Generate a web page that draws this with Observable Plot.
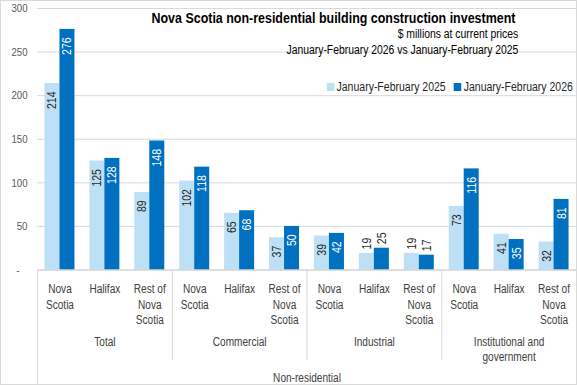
<!DOCTYPE html>
<html><head><meta charset="utf-8">
<script src="https://cdn.jsdelivr.net/npm/d3@7"></script>
<script src="https://cdn.jsdelivr.net/npm/@observablehq/plot@0.6"></script>
<style>
html,body{margin:0;padding:0;background:#fff;}
#chart{position:relative;width:577px;height:385px;overflow:hidden;font-family:'Liberation Sans Narrow','Arial Narrow','Liberation Sans',sans-serif;}
#chart svg{position:absolute;left:0;top:0;}
#border{position:absolute;left:0;top:0;width:577px;height:385px;box-sizing:border-box;border:1px solid #d9d9d9;pointer-events:none;}
.t{position:absolute;white-space:nowrap;line-height:1;color:#000;transform:scaleX(0.83);transform-origin:right center;}
#title{right:62px;top:10px;font-size:15px;font-weight:bold;}
#sub1{right:59px;top:28px;font-size:12.5px;}
#sub2{right:59px;top:44px;font-size:12.5px;}
#legend{position:absolute;right:4px;top:81px;display:flex;align-items:center;font-size:12.5px;line-height:1;color:#262626;white-space:nowrap;transform:scaleX(0.84);transform-origin:right center;}
#legend .sw{display:inline-block;width:8.5px;height:8px;margin-right:3px;}
#legend .it{display:flex;align-items:center;margin-left:10px;}
</style>
</head><body>
<div id="chart">
  <div class="t" id="title"></div>
  <div class="t" id="sub1"></div>
  <div class="t" id="sub2"></div>
  <div id="legend"></div>
  <div id="border"></div>
</div>
<script>
const titleText = "Nova Scotia non-residential  building construction  investment";
const subtitle1 = "$ millions at current prices";
const subtitle2 = "January-February  2026 vs January-February  2025";
const categories = ["Total", "Commercial", "Industrial", "Institutional and\ngovernment"];
const regions = ["Nova\nScotia", "Halifax", "Rest of\nNova\nScotia"];
const groupLabel = "Non-residential";
const series = ["January-February 2025", "January-February 2026"];
const values2025 = [214, 125, 89, 102, 65, 37, 39, 19, 19, 73, 41, 32];
const values2026 = [276, 128, 148, 118, 68, 50, 42, 25, 17, 116, 35, 81];
const yTicks = [0, 50, 100, 150, 200, 250, 300];
const colors = ["#bde0f7", "#0070c0"];

const FONT = "'Liberation Sans Narrow','Arial Narrow','Liberation Sans',sans-serif";
const SQUEEZE = 0.84;

const rows = values2025.map((v, i) => ({
  i, c: Math.floor(i / 3), r: i % 3,
  cat: categories[Math.floor(i / 3)], region: regions[i % 3],
  v25: v, v26: values2026[i]
}));
const fits = v => v >= 30;

document.getElementById("title").textContent = titleText;
document.getElementById("sub1").textContent = subtitle1;
document.getElementById("sub2").textContent = subtitle2;
const leg = document.getElementById("legend");
series.forEach((s, k) => {
  const it = document.createElement("span"); it.className = "it";
  const sw = document.createElement("span"); sw.className = "sw"; sw.style.background = colors[k];
  const tx = document.createElement("span"); tx.textContent = s;
  it.appendChild(sw); it.appendChild(tx); leg.appendChild(it);
});

const plot = Plot.plot({
  width: 577, height: 385,
  marginLeft: 37, marginRight: 1, marginTop: 8, marginBottom: 115.5,
  style: {fontFamily: FONT, background: "transparent", overflow: "visible"},
  x: {type: "band", domain: d3.range(12), paddingInner: 0.332, paddingOuter: 0.166, round: false, axis: null},
  y: {domain: [0, 300], axis: null},
  marks: [
    Plot.gridY(yTicks.filter(d => d > 0), {stroke: "#d9d9d9", strokeOpacity: 1}),
    Plot.axisY(yTicks, {tickSize: 0, tickPadding: 10, fontSize: 11.5, fill: "#595959",
      tickFormat: d => d === 0 ? "-\u00a0\u00a0\u00a0" : String(d)}),
    Plot.barY(rows, {x: "i", y: "v25", fill: colors[0], insetRight: 15}),
    Plot.barY(rows, {x: "i", y: "v26", fill: colors[1], insetLeft: 15}),
    Plot.ruleY([0], {stroke: "#bfbfbf"}),
    Plot.ruleX(rows.filter(d => d.r === 0 && d.c > 0), {x: "i", y1: 0, y2: 0, dx: -22.46, insetBottom: -90.5, stroke: "#d9d9d9"}),
    Plot.ruleX(rows.filter(d => d.i === 0), {x: "i", y1: 0, y2: 0, dx: -22.46, insetBottom: -116, stroke: "#d9d9d9"}),
    Plot.text(rows.filter(d => fits(d.v25)), {x: "i", y: "v25", text: d => String(d.v25), rotate: -90, dx: -7.5, dy: 8, textAnchor: "end", fontSize: 12.5, fill: "#262626"}),
    Plot.text(rows.filter(d => fits(d.v26)), {x: "i", y: "v26", text: d => String(d.v26), rotate: -90, dx: 7.5, dy: 8, textAnchor: "end", fontSize: 12.5, fill: "#ffffff"}),
    Plot.text(rows.filter(d => !fits(d.v25)), {x: "i", y: "v25", text: d => String(d.v25), rotate: -90, dx: -7.5, dy: -4, textAnchor: "start", fontSize: 12.5, fill: "#262626"}),
    Plot.text(rows.filter(d => !fits(d.v26)), {x: "i", y: "v26", text: d => String(d.v26), rotate: -90, dx: 7.5, dy: -4, textAnchor: "start", fontSize: 12.5, fill: "#262626"}),
    Plot.text(rows, {x: "i", text: "region", frameAnchor: "bottom", lineAnchor: "top", dy: 12, lineHeight: 1.3, fontSize: 12, fill: "#404040"}),
    Plot.text(rows.filter(d => d.r === 1), {x: "i", text: "cat", frameAnchor: "bottom", lineAnchor: "top", dy: 64.5, lineHeight: 1.3, fontSize: 12, fill: "#404040"}),
    Plot.text([groupLabel], {text: d => d, frameAnchor: "bottom", lineAnchor: "top", dy: 103, fontSize: 12, fill: "#404040"})
  ]
});
document.getElementById("chart").insertBefore(plot, document.getElementById("title"));

// narrow the glyphs to approximate the reference's condensed typeface
plot.querySelectorAll("text").forEach(t => {
  const spans = t.querySelectorAll("tspan");
  const targets = spans.length ? Array.from(spans) : [t];
  targets.forEach(el => {
    const L = el.getComputedTextLength();
    if (L > 0) {
      el.setAttribute("textLength", (L * SQUEEZE).toFixed(2));
      el.setAttribute("lengthAdjust", "spacingAndGlyphs");
    }
  });
});
</script>
</body></html>
